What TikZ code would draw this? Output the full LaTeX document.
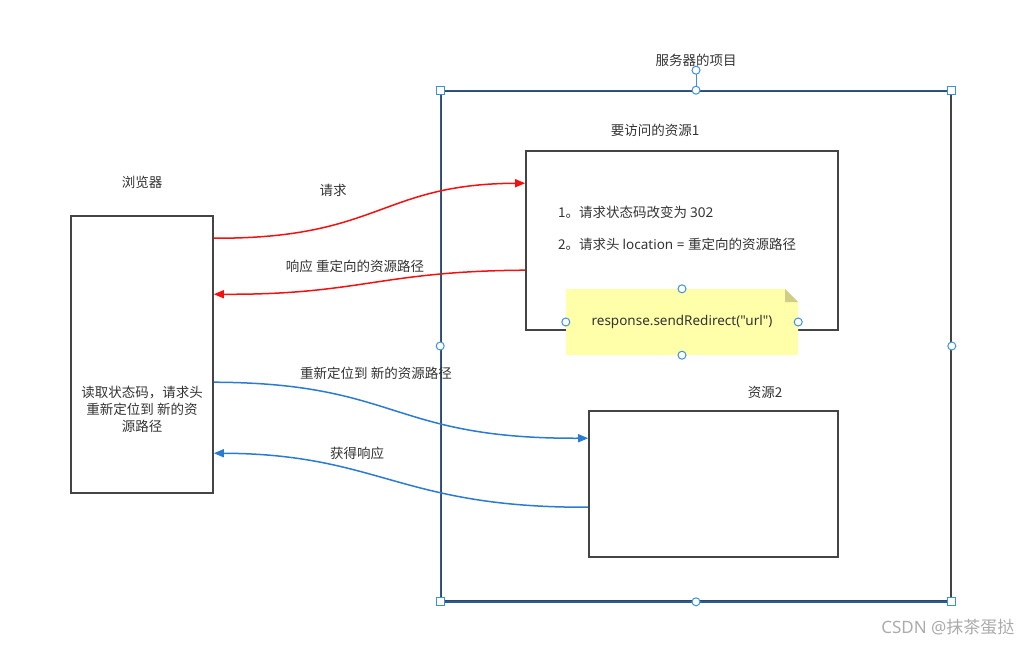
\documentclass[tikz,border=0pt]{standalone}
\usepackage{fontspec}
\setmainfont{Noto Sans CJK SC}
\newfontfamily\latinfont{Noto Sans}
\usetikzlibrary{calc, positioning}
\usetikzlibrary{arrows.meta}

\definecolor{boxgray}{HTML}{444444}
\definecolor{txtgray}{HTML}{333333}
\definecolor{reqred}{HTML}{F51010}
\definecolor{redirblue}{HTML}{2A7BD4}
\definecolor{selblue}{HTML}{1F5FAA}
\definecolor{handleblue}{HTML}{3D8FE6}
\definecolor{notefill}{HTML}{FFFFAA}
\definecolor{notefold}{HTML}{CECE86}
\definecolor{markgray}{HTML}{ABABAB}

\begin{document}
\begin{tikzpicture}[x=1pt, y=-1pt,
  font=\fontsize{13.5}{17}\selectfont,
  box/.style={draw=boxgray, line width=1.6pt, inner sep=0pt},
  lbl/.style={text=txtgray, inner sep=1pt},
  flow/.style={line width=1.5pt, -{Triangle[length=10pt, width=8pt]}},
  sqhandle/.style={draw=handleblue, fill=white, line width=1pt, minimum size=8pt, inner sep=0pt},
  rdhandle/.style={draw=handleblue, fill=white, line width=1pt, circle, minimum size=8pt, inner sep=0pt}]
\useasboundingbox (0,0) rectangle (1032,645);

% boxes
\node[box, minimum width=510, minimum height=510] (server) at (696,346) {};
\node[box, minimum width=142, minimum height=277] (browser) at (142,354.5) {};
\node[box, minimum width=312, minimum height=179] (res1) at (682,240.5) {};
\node[box, minimum width=249, minimum height=146] (res2) at (713.5,484) {};

% selection frame of the server box
\draw[selblue, line width=1.4pt] (server.north west) -- (server.north east);
\draw[selblue, line width=1.4pt] (server.south west) -- (server.south east);
\draw[selblue, line width=0.8pt] (server.north west) -- (server.south west);
\draw[handleblue, line width=1pt] (server.north) -- ++(0,-20) coordinate (rot);

% titles
\node[lbl] (serverlbl) at (696,60) {服务器的项目};
\node[lbl] (res1lbl) at (655,130) {要访问的资源1};
\node[lbl] (browserlbl) at (142,182) {浏览器};
\node[lbl] (res2lbl) at (765,392) {资源2};

% inside the boxes
\node[lbl, anchor=west] (step1) at (557,212) {1。请求状态码改变为 {\latinfont 302}};
\node[lbl, anchor=west] (step2) at (557,244) {2。请求头 {\latinfont location = }重定向的资源路径};
\node[lbl, align=center] (readhdr) at (142,409) {读取状态码，请求头\\重新定位到 新的资\\源路径};

% note
\coordinate (noteC) at (682,322);
\fill[notefill] ($(noteC)+(-116,-33)$) -- ($(noteC)+(103,-33)$) -- ($(noteC)+(116,-20)$)
  -- ($(noteC)+(116,33)$) -- ($(noteC)+(-116,33)$) -- cycle;
\fill[notefold] ($(noteC)+(103,-33)$) -- ($(noteC)+(103,-20)$) -- ($(noteC)+(116,-20)$) -- cycle;
\node[lbl, minimum width=232, minimum height=66, inner sep=0pt, font=\latinfont\fontsize{13.5}{17}\selectfont] (note) at (noteC) {response.sendRedirect("url")};

% arrows
\draw[flow, reqred] ($(browser.north east)+(0,23)$) .. controls (380,239) and (380,184) .. ($(res1.north west)+(0,33)$);
\draw[flow, reqred] ($(res1.north west)+(0,120)$) .. controls (380,271) and (360,295) .. ($(browser.north east)+(0,79)$);
\draw[flow, redirblue] ($(browser.north east)+(0,167)$) .. controls (400,383) and (390,439) .. ($(res2.north west)+(0,28)$);
\draw[flow, redirblue] ($(res2.north west)+(0,97)$) .. controls (400,508) and (380,454) .. ($(browser.north east)+(0,238)$);

\node[lbl] (reqlbl) at (333,190) {请求};
\node[lbl] (resplbl) at (355,266) {响应 重定向的资源路径};
\node[lbl] (redirlbl) at (376,373) {重新定位到 新的资源路径};
\node[lbl] (gotlbl) at (357,453) {获得响应};

% handles
\foreach \a in {north west, north east, south west, south east}
  \node[sqhandle] at (server.\a) {};
\foreach \a in {north, south, west, east}
  \node[rdhandle] at (server.\a) {};
\node[rdhandle] (rothandle) at (rot) {};
\foreach \a in {north, south, west, east}
  \node[rdhandle] at (note.\a) {};

% watermark
\node[text=markgray, font=\fontsize{17}{20}\selectfont, anchor=east] (mark) at (1018,627) {{\latinfont CSDN @}抹茶蛋挞};
\end{tikzpicture}
\end{document}
